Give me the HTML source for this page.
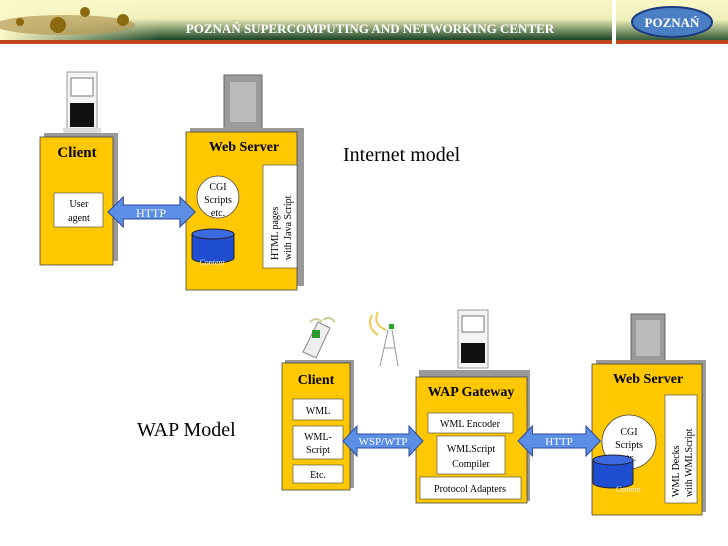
<!DOCTYPE html>
<html><head><meta charset="utf-8"><style>
html,body{margin:0;padding:0;background:#fff;}
svg{display:block;}
text{font-family:"Liberation Serif",serif;}
</style></head><body>
<svg width="728" height="546" viewBox="0 0 728 546" xmlns="http://www.w3.org/2000/svg">
<defs>
<linearGradient id="hdr" x1="0" y1="0" x2="0" y2="1">
<stop offset="0" stop-color="#fbf7c8"/><stop offset="0.45" stop-color="#eef0b8"/><stop offset="1" stop-color="#0e3a1e"/>
</linearGradient>
<linearGradient id="hdrL" x1="0" y1="0" x2="1" y2="0">
<stop offset="0" stop-color="#fbf7c8" stop-opacity="1"/><stop offset="1" stop-color="#fbf7c8" stop-opacity="0"/>
</linearGradient>
<g id="arrow"><path d="M0 15 L14 0 L14 8 L66 8 L66 0 L80 15 L66 30 L66 22 L14 22 L14 30 Z" fill="#5b8fe6" stroke="#2c4a9a" stroke-width="1"/></g>
</defs>
<!-- header -->
<rect x="0" y="0" width="728" height="41" fill="url(#hdr)"/>
<rect x="0" y="0" width="160" height="41" fill="url(#hdrL)"/>
<ellipse cx="65" cy="25" rx="70" ry="10" fill="#b39a55" opacity="0.7"/>
<circle cx="58" cy="25" r="8" fill="#8a6a10"/><circle cx="85" cy="12" r="5" fill="#8a6a10"/><circle cx="123" cy="20" r="6" fill="#8a6a10"/><circle cx="20" cy="22" r="4" fill="#8a6a10"/>
<rect x="0" y="40" width="612" height="4" fill="#c0451a"/>
<rect x="612" y="0" width="4" height="44" fill="#fff"/>
<rect x="616" y="0" width="112" height="44" fill="url(#hdr)"/>
<rect x="616" y="40" width="112" height="4" fill="#c0451a"/>
<ellipse cx="672" cy="22" rx="40" ry="15" fill="#4a7fc4" stroke="#1c3a80" stroke-width="2"/>
<text x="672" y="27" font-size="13" font-weight="bold" fill="#fff" text-anchor="middle">POZNAŃ</text>
<text x="370" y="33" font-size="13" font-weight="bold" fill="#fff" text-anchor="middle">POZNAŃ SUPERCOMPUTING AND NETWORKING CENTER</text>

<!-- Internet model -->
<!-- client PC -->
<rect x="67" y="72" width="30" height="58" fill="#f4f4f4" stroke="#999"/>
<rect x="71" y="78" width="22" height="18" fill="#fff" stroke="#777"/>
<rect x="70" y="103" width="24" height="24" fill="#111"/>
<rect x="63" y="128" width="38" height="6" fill="#ddd"/>
<!-- server tower -->
<rect x="224" y="75" width="38" height="56" fill="#9a9a9a" stroke="#666"/>
<rect x="230" y="82" width="26" height="40" fill="#bbb"/>
<rect x="44" y="133" width="74" height="128" fill="#999"/>
<rect x="40" y="137" width="73" height="128" fill="#ffc800" stroke="#444" stroke-width="0.8"/>
<text x="77" y="157" font-size="15" font-weight="bold" text-anchor="middle">Client</text>
<rect x="54" y="193" width="49" height="34" fill="#fff" stroke="#444" stroke-width="0.6"/>
<text x="79" y="207" font-size="10" text-anchor="middle">User</text>
<text x="79" y="221" font-size="10" text-anchor="middle">agent</text>
<rect x="190" y="128" width="114" height="158" fill="#999"/>
<rect x="186" y="132" width="111" height="158" fill="#ffc800" stroke="#444" stroke-width="0.8"/>
<text x="244" y="151" font-size="14" font-weight="bold" text-anchor="middle">Web Server</text>
<rect x="263" y="165" width="34" height="103" fill="#fff" stroke="#444" stroke-width="0.6"/>
<text transform="translate(278,260) rotate(-90)" font-size="10">HTML pages</text>
<text transform="translate(291,260) rotate(-90)" font-size="10">with Java Script</text>
<circle cx="218" cy="197" r="21" fill="#fff" stroke="#444" stroke-width="0.8"/>
<text x="218" y="190" font-size="10" text-anchor="middle">CGI</text>
<text x="218" y="203" font-size="10" text-anchor="middle">Scripts</text>
<text x="218" y="216" font-size="10" text-anchor="middle">etc.</text>
<path d="M192 234 L192 258 A21 5 0 0 0 234 258 L234 234" fill="#1f4fd0" stroke="#223"/>
<ellipse cx="213" cy="234" rx="21" ry="5" fill="#3d6ae0" stroke="#223"/>
<text x="212" y="265" font-size="8" fill="#eee" font-style="italic" text-anchor="middle">Content</text>
<use href="#arrow" transform="translate(108,197) scale(1.09,1)"/>
<text x="151" y="217" font-size="12" fill="#fff" text-anchor="middle">HTTP</text>
<text x="343" y="161" font-size="20">Internet model</text>

<!-- WAP model -->
<text x="137" y="436" font-size="20">WAP Model</text>
<!-- phone -->
<path d="M303 352 L318 322 L330 328 L316 358 Z" fill="#eee" stroke="#888"/>
<rect x="312" y="330" width="8" height="8" fill="#2a9a2a"/>
<path d="M310 322 q6 -6 12 0 M323 320 q6 -5 12 2" stroke="#cc9" fill="none" stroke-width="2"/>
<!-- antenna -->
<path d="M388 330 L380 366 M392 330 L398 366 M384 348 L395 348" stroke="#999" fill="none"/>
<path d="M372 315 q-6 12 6 20 M378 312 q-6 12 8 18" stroke="#ec5" fill="none" stroke-width="2"/>
<rect x="389" y="324" width="5" height="5" fill="#2a2"/>
<!-- gateway PC -->
<rect x="458" y="310" width="30" height="58" fill="#f4f4f4" stroke="#999"/>
<rect x="462" y="316" width="22" height="16" fill="#fff" stroke="#777"/>
<rect x="461" y="343" width="24" height="20" fill="#111"/>
<!-- server tower -->
<rect x="631" y="314" width="34" height="50" fill="#9a9a9a" stroke="#666"/>
<rect x="636" y="320" width="24" height="36" fill="#bbb"/>

<rect x="285" y="360" width="69" height="128" fill="#999"/>
<rect x="282" y="363" width="68" height="127" fill="#ffc800" stroke="#444" stroke-width="0.8"/>
<text x="316" y="384" font-size="14" font-weight="bold" text-anchor="middle">Client</text>
<rect x="293" y="399" width="50" height="21" fill="#fff" stroke="#444" stroke-width="0.6"/>
<text x="318" y="414" font-size="10" text-anchor="middle">WML</text>
<rect x="293" y="426" width="50" height="33" fill="#fff" stroke="#444" stroke-width="0.6"/>
<text x="318" y="440" font-size="10" text-anchor="middle">WML-</text>
<text x="318" y="453" font-size="10" text-anchor="middle">Script</text>
<rect x="293" y="465" width="50" height="18" fill="#fff" stroke="#444" stroke-width="0.6"/>
<text x="318" y="478" font-size="10" text-anchor="middle">Etc.</text>

<rect x="419" y="370" width="111" height="131" fill="#999"/>
<rect x="416" y="377" width="111" height="126" fill="#ffc800" stroke="#444" stroke-width="0.8"/>
<text x="471" y="396" font-size="14" font-weight="bold" text-anchor="middle">WAP Gateway</text>
<rect x="428" y="413" width="85" height="20" fill="#fff" stroke="#444" stroke-width="0.6"/>
<text x="470" y="427" font-size="10" text-anchor="middle">WML Encoder</text>
<rect x="437" y="436" width="68" height="38" fill="#fff" stroke="#444" stroke-width="0.6"/>
<text x="471" y="452" font-size="10" text-anchor="middle">WMLScript</text>
<text x="471" y="467" font-size="10" text-anchor="middle">Compiler</text>
<rect x="420" y="477" width="101" height="22" fill="#fff" stroke="#444" stroke-width="0.6"/>
<text x="470" y="492" font-size="10" text-anchor="middle">Protocol Adapters</text>

<rect x="596" y="360" width="110" height="152" fill="#999"/>
<rect x="592" y="364" width="110" height="151" fill="#ffc800" stroke="#444" stroke-width="0.8"/>
<text x="648" y="383" font-size="14" font-weight="bold" text-anchor="middle">Web Server</text>
<rect x="665" y="395" width="32" height="108" fill="#fff" stroke="#444" stroke-width="0.6"/>
<text transform="translate(679,497) rotate(-90)" font-size="10">WML Decks</text>
<text transform="translate(692,497) rotate(-90)" font-size="10">with WMLScript</text>
<circle cx="629" cy="442" r="27" fill="#fff" stroke="#444" stroke-width="0.8"/>
<text x="629" y="435" font-size="10" text-anchor="middle">CGI</text>
<text x="629" y="448" font-size="10" text-anchor="middle">Scripts</text>
<text x="629" y="461" font-size="10" text-anchor="middle">etc.</text>
<path d="M593 460 L593 483 A20 5 0 0 0 633 483 L633 460" fill="#1f4fd0" stroke="#223"/>
<ellipse cx="613" cy="460" rx="20" ry="5" fill="#3d6ae0" stroke="#223"/>
<text x="628" y="492" font-size="8" fill="#eee" font-style="italic" text-anchor="middle">Content</text>

<use href="#arrow" transform="translate(343,426)"/>
<text x="383" y="445" font-size="11" fill="#fff" text-anchor="middle">WSP/WTP</text>
<use href="#arrow" transform="translate(518,426) scale(1.03,1)"/>
<text x="559" y="445" font-size="11" fill="#fff" text-anchor="middle">HTTP</text>
</svg>
</body></html>
